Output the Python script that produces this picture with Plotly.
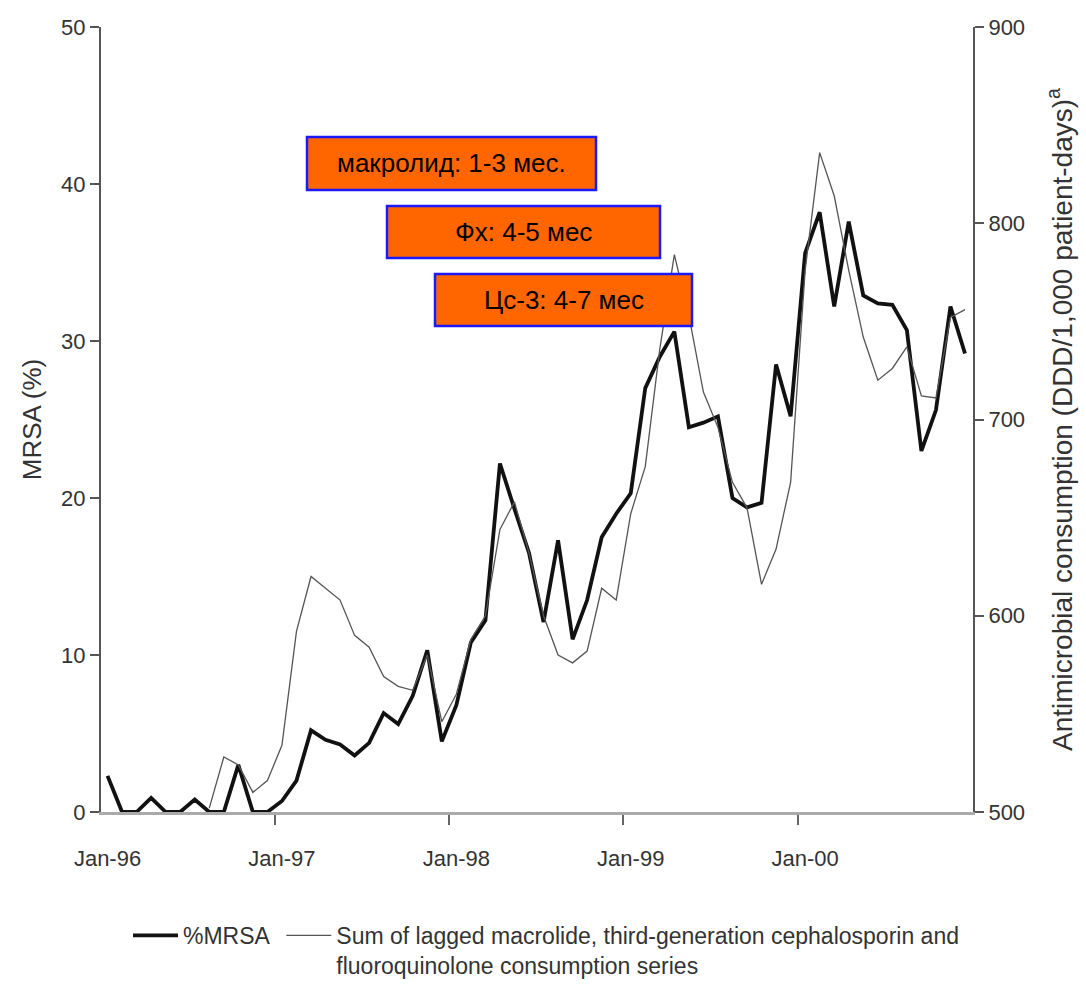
import plotly.graph_objects as go

# Month index 0 = Jan-96 ... 59 = Dec-00
months = list(range(60))
tick_labels = ["Jan-96", "Jan-97", "Jan-98", "Jan-99", "Jan-00"]
tick_months = [0, 12, 24, 36, 48]

mrsa = [2.3, 0, 0, 0.9, 0, 0, 0.8, 0, 0, 3.0, 0, 0,
        0.7, 2.0, 5.2, 4.6, 4.3, 3.6, 4.4, 6.3, 5.6, 7.4, 10.3, 4.5,
        6.8, 10.8, 12.2, 22.2, 19.3, 16.5, 12.1, 17.3, 11.0, 13.5, 17.5, 19.0,
        20.3, 27.0, 29.0, 30.6, 24.5, 24.8, 25.2, 20.0, 19.4, 19.7, 28.5, 25.2,
        35.6, 38.2, 32.2, 37.6, 32.9, 32.4, 32.3, 30.7, 23.0, 25.6, 32.2, 29.2]

consumption = [None, None, None, None, None, None, None, 502, 528, 524, 510, 516,
               534, 592, 620, 614, 608, 590, 584, 569, 564, 562, 580, 546,
               560, 588, 600, 644, 658, 632, 600, 580, 576, 582, 614, 608,
               652, 676, 736, 784, 753, 714, 696, 668, 655, 616, 634, 668,
               776, 836, 814, 776, 742, 720, 726, 737, 712, 711, 752, 756]

labels = ["макролид: 1-3 мес.", "Фх: 4-5 мес", "Цс-3: 4-7 мес"]

W, H = 1086, 987
L, R, T, B = 101, 973, 27, 812


def px(x):
    return (x - L) / (R - L)


def py(y):
    return (B - y) / (B - T)


NB = "\u00a0"

fig = go.Figure()
fig.add_trace(go.Scatter(x=months, y=mrsa, mode="lines", name="%MRSA" + NB,
                         line=dict(color="#111111", width=3.8), yaxis="y"))
fig.add_trace(go.Scatter(x=months, y=consumption, mode="lines",
                         name="Sum of lagged macrolide, third-generation cephalosporin and<br>fluoroquinolone consumption series",
                         line=dict(color="#555555", width=1.3), yaxis="y2",
                         connectgaps=False))

font_main = "Liberation Sans, Arial, sans-serif"
txt_col = "#333333"

boxes = [(307, 596, 137, 190), (387, 660, 206, 258), (435, 692, 274, 326)]
shapes = []
annotations = []
for (x0, x1, y0, y1), txt in zip(boxes, labels):
    shapes.append(dict(type="rect", xref="paper", yref="paper",
                       x0=px(x0), x1=px(x1), y0=py(y1), y1=py(y0),
                       fillcolor="#FF6600", line=dict(color="#1a1aff", width=2.5),
                       layer="above"))
    annotations.append(dict(xref="paper", yref="paper", x=px((x0 + x1) / 2), y=py((y0 + y1) / 2),
                            text=txt, showarrow=False, xanchor="center", yanchor="middle",
                            font=dict(family=font_main, size=26, color="#000000")))

fig.update_layout(
    width=W, height=H,
    margin=dict(l=L, r=W - R, t=T, b=H - B, pad=0, autoexpand=False),
    paper_bgcolor="white", plot_bgcolor="white",
    showlegend=True,
    legend=dict(orientation="h", x=px(128), y=py(914), xanchor="left", yanchor="top",
                font=dict(family=font_main, size=23, color=txt_col),
                valign="top", itemwidth=45, tracegroupgap=0),
    xaxis=dict(range=[-0.45, 59.55], tickmode="array", tickvals=tick_months, ticktext=tick_labels,
               showgrid=False, zeroline=False, showline=True, linecolor="#aaaaaa", linewidth=3,
               ticks="outside", ticklen=25, tickcolor="rgba(0,0,0,0)", automargin=False,
               minor=dict(tickmode="array", tickvals=[-0.5, 11.5, 23.5, 35.5, 47.5],
                          ticks="outside", ticklen=10, tickcolor="#666666", tickwidth=1.5,
                          showgrid=False),
               tickfont=dict(family=font_main, size=22, color=txt_col)),
    yaxis=dict(range=[0, 50], tickvals=[0, 10, 20, 30, 40, 50], showgrid=False, zeroline=False,
               showline=True, linecolor="#555555", linewidth=2, ticks="outside", ticklen=9,
               tickcolor="#555555", tickwidth=1.5, automargin=False,
               tickfont=dict(family=font_main, size=22, color=txt_col),
               title=dict(text="MRSA (%)", font=dict(family=font_main, size=26, color=txt_col),
                          standoff=12)),
    yaxis2=dict(range=[500, 900], tickvals=[500, 600, 700, 800, 900], overlaying="y", side="right",
                showgrid=False, zeroline=False, showline=True, linecolor="#555555", linewidth=2,
                ticks="outside", ticklen=9, tickcolor="#555555", tickwidth=1.5, automargin=False,
                tickfont=dict(family=font_main, size=22, color=txt_col),
                title=dict(text="Antimicrobial consumption (DDD/1,000 patient-days)<sup>a</sup>",
                           font=dict(family=font_main, size=28, color=txt_col), standoff=28)),
    shapes=shapes,
    annotations=annotations,
)

fig.write_html("out.html")
